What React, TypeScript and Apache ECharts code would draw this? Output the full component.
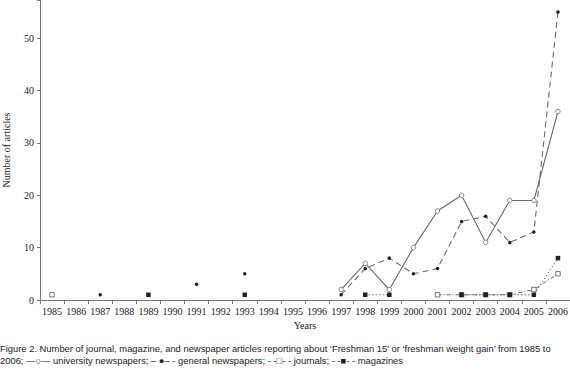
import React, { useEffect, useRef } from "react";
import * as echarts from "echarts";

const years = ["1985","1986","1987","1988","1989","1990","1991","1992","1993","1994","1995","1996","1997","1998","1999","2000","2001","2002","2003","2004","2005","2006"];
const universityNewspapers = [null,null,null,null,null,null,null,null,null,null,null,null,2,7,2,10,17,20,11,19,19,36];
const generalNewspapers = [null,null,1,null,null,null,3,null,5,null,null,null,1,6,8,5,6,15,16,11,13,55];
const journals = [1,null,null,null,null,null,null,null,null,null,null,null,null,null,null,null,1,1,1,1,2,5];
const magazines = [null,null,null,null,1,null,null,null,1,null,null,null,null,1,1,null,null,1,1,1,1,8];
const yTicks = [0, 10, 20, 30, 40, 50];

const captionLine1 = "Figure 2. Number of journal, magazine, and newspaper articles reporting about \u2018Freshman 15\u2019 or \u2018freshman weight gain\u2019 from 1985 to";
const captionLine2 = "2006; \u2014\u25CB\u2014 university newspapers; \u2013 \u25CF\u2013 - general newspapers; - -\u25A1- - journals; - -\u25A0- - magazines";

export default function App() {
  const ref = useRef<HTMLDivElement>(null);
  useEffect(() => {
    const chart = echarts.init(ref.current!, null, { renderer: "svg" });
    const serif = "'Liberation Serif', 'DejaVu Serif', serif";
    const sans = "'Liberation Sans', Arial, sans-serif";
    const lineColor = "#6a6a6a";
    const markColor = "#222";
    chart.setOption({
      animation: false,
      grid: { left: 40, right: 0, top: 0, bottom: 73, containLabel: false, outerBoundsMode: "none" },
      xAxis: {
        type: "category",
        data: years,
        boundaryGap: true,
        name: "Years",
        nameLocation: "middle",
        nameGap: 19,
        nameTextStyle: { fontFamily: serif, fontSize: 10, color: "#222" },
        axisLine: { lineStyle: { color: "#777", width: 1 } },
        axisTick: { show: true, alignWithLabel: false, length: 4, lineStyle: { color: "#777" } },
        axisLabel: { fontFamily: serif, fontSize: 10, color: "#222", margin: 6, interval: 0 },
      },
      yAxis: {
        type: "value",
        min: 0,
        max: 57.3,
        interval: 10,
        name: "Number of articles",
        nameLocation: "middle",
        nameGap: 29,
        nameRotate: 90,
        nameTextStyle: { fontFamily: serif, fontSize: 10, color: "#222" },
        axisLine: { show: true, lineStyle: { color: "#777", width: 1 } },
        axisTick: { show: true, length: 3, lineStyle: { color: "#777" } },
        splitLine: { show: false },
        axisLabel: {
          fontFamily: serif, fontSize: 10, color: "#222", margin: 6,
          formatter: (v: number) => (yTicks.includes(v) ? String(v) : ""),
        },
      },
      series: [
        {
          name: "university newspapers",
          type: "line",
          data: universityNewspapers,
          connectNulls: false,
          symbol: "circle",
          symbolSize: 4.5,
          itemStyle: { color: "#fff", borderColor: "#666", borderWidth: 0.8 },
          lineStyle: { color: lineColor, width: 1.1, type: "solid" },
        },
        {
          name: "general newspapers",
          type: "line",
          data: generalNewspapers,
          connectNulls: false,
          symbol: "circle",
          symbolSize: 3.5,
          itemStyle: { color: markColor },
          lineStyle: { color: lineColor, width: 1.1, type: [6, 4] },
        },
        {
          name: "journals",
          type: "line",
          data: journals,
          connectNulls: false,
          symbol: "rect",
          symbolSize: 4.5,
          itemStyle: { color: "#fff", borderColor: "#555", borderWidth: 0.8 },
          lineStyle: { color: lineColor, width: 1, type: [4, 2, 1, 2] },
        },
        {
          name: "magazines",
          type: "line",
          data: magazines,
          connectNulls: false,
          symbol: "rect",
          symbolSize: 4.5,
          itemStyle: { color: markColor },
          lineStyle: { color: lineColor, width: 1, type: [1.5, 2] },
        },
      ],
      graphic: [
        {
          type: "text",
          left: 0,
          top: 344,
          style: { text: captionLine1, fontFamily: sans, fontSize: 9.4, fill: "#222" },
        },
        {
          type: "text",
          left: 0,
          top: 356,
          style: { text: captionLine2, fontFamily: sans, fontSize: 9.4, fill: "#222" },
        },
      ],
    });
    return () => chart.dispose();
  }, []);
  return <div ref={ref} style={{ width: 570, height: 373, position: "fixed", left: 0, top: 0, background: "#fff" }} />;
}
